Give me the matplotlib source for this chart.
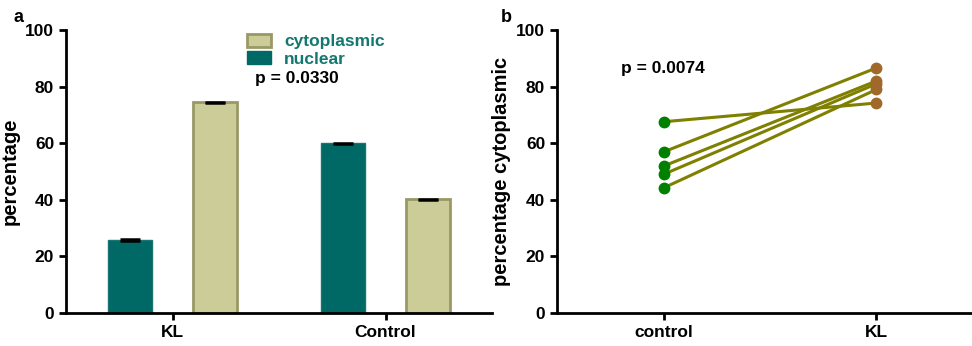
import matplotlib
matplotlib.use("Agg")
import matplotlib.pyplot as plt
from matplotlib.patches import Patch
import numpy as np

plt.rcParams['font.family'] = ['Liberation Sans', 'DejaVu Sans']
plt.rcParams['font.weight'] = 'bold'

# ---- data panel a ----
groups = ["KL", "Control"]
nuclear = [25.8, 60.0]
cytoplasmic = [74.5, 40.2]
nuclear_err = [0.2, 0.2]
cyto_err = [0.2, 0.25]
p_a = "p = 0.0330"

# ---- data panel b ----
pair_labels = ["control", "KL"]
control_vals = [67.6, 57.0, 52.0, 49.1, 44.3]
kl_vals = [74.2, 86.6, 82.0, 81.0, 79.0]
p_b = "p = 0.0074"

teal = "#006865"
cyto_fill = "#cccc99"
cyto_edge = "#999966"
legend_text = "#137870"

W, H = 972, 346
fig = plt.figure(figsize=(W/100, H/100), dpi=100)

def style(ax):
    for s in ['top', 'right']:
        ax.spines[s].set_visible(False)
    for s in ['left', 'bottom']:
        ax.spines[s].set_linewidth(2)
    ax.tick_params(width=2, length=5, labelsize=12.5, direction='out')
    ax.set_ylim(0, 100)
    ax.set_yticks([0, 20, 40, 60, 80, 100])
    for lab in ax.get_xticklabels() + ax.get_yticklabels():
        lab.set_fontweight('bold')

# Panel a
axa = fig.add_axes([66/W, 1-313/H, (492-66)/W, (313-30)/H])
x = np.arange(len(groups))
bw = 0.21
off = 0.2
axa.bar(x - off, nuclear, bw, color=teal, edgecolor="#1a7473", linewidth=1, zorder=2)
axa.bar(x + off, cytoplasmic, bw, color=cyto_fill, edgecolor=cyto_edge, linewidth=2, zorder=2)
axa.errorbar(x - off, nuclear, yerr=nuclear_err, fmt='none', ecolor='black', capsize=7, capthick=1.8, elinewidth=1, zorder=3)
axa.errorbar(x + off, cytoplasmic, yerr=cyto_err, fmt='none', ecolor='black', capsize=7, capthick=1.8, elinewidth=1, zorder=3)
axa.set_xlim(-0.5, 1.5)
axa.set_xticks(x)
axa.set_xticklabels(groups)
axa.set_ylabel("percentage", fontsize=14.5, fontweight='bold', labelpad=4)
style(axa)
handles = [Patch(facecolor=cyto_fill, edgecolor=cyto_edge, linewidth=2, label="cytoplasmic"),
           Patch(facecolor=teal, edgecolor=teal, label="nuclear")]
leg = axa.legend(handles=handles, loc='upper left', bbox_to_anchor=((247-66)/(492-66), 1 - 4/283),
                 frameon=False, borderpad=0, borderaxespad=0, handlelength=1.4, handleheight=0.75,
                 handletextpad=0.75, labelspacing=0.12, prop={'size': 12.5, 'weight': 'bold'},
                 labelcolor=legend_text)
axa.text((255-66)/(492-66), (313-78)/283, p_a, transform=axa.transAxes, fontsize=12.5,
         fontweight='bold', va='center', ha='left')
fig.text(13/W, 1-17/H, "a", fontsize=13, fontweight='bold', va='center', ha='left')

# Panel b
axb = fig.add_axes([557/W, 1-313/H, (972-557)/W, (313-30)/H])
xp = np.arange(len(pair_labels))
for c, k in zip(control_vals, kl_vals):
    axb.plot(xp, [c, k], color="#808000", linewidth=2.2, zorder=2)
axb.plot(np.zeros(len(control_vals)) + xp[0], control_vals, 'o', color="#008000", markersize=7.5, zorder=3)
axb.plot(np.zeros(len(kl_vals)) + xp[1], kl_vals, 'o', color="#a0692b", markersize=7.5, zorder=3)
axb.set_xlim(-0.505, 1.45)
axb.set_xticks(xp)
axb.set_xticklabels(pair_labels)
axb.set_ylabel("percentage cytoplasmic", fontsize=14.5, fontweight='bold', labelpad=4)
style(axb)
axb.text((621-557)/(972-557), (313-68)/283, p_b, transform=axb.transAxes, fontsize=12.5,
         fontweight='bold', va='center', ha='left')
fig.text(501/W, 1-17/H, "b", fontsize=13, fontweight='bold', va='center', ha='left')

fig.savefig("out.png", dpi=100)
